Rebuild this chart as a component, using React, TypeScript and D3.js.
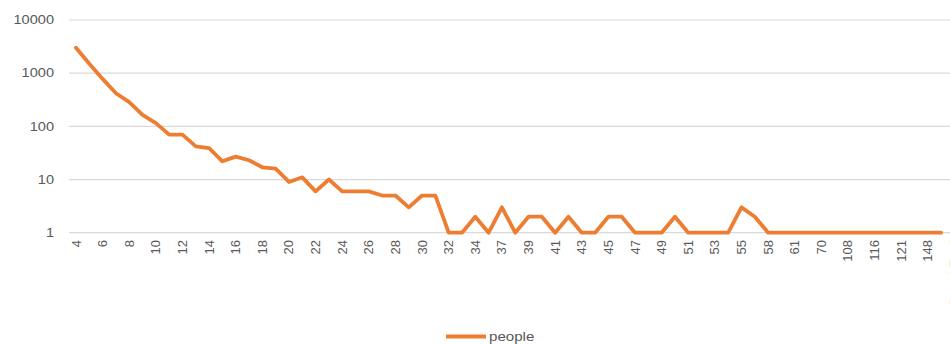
import React from "react";
import * as d3 from "d3";

// Group sizes (category axis) and the number of people in each group
const categories: string[] = [
  "4", "5", "6", "7", "8", "9", "10", "11", "12", "13", "14", "15", "16", "17", "18", "19",
  "20", "21", "22", "23", "24", "25", "26", "27", "28", "29", "30", "31", "32", "33", "34",
  "35", "37", "38", "39", "40", "41", "42", "43", "44", "45", "46", "47", "48", "49", "50",
  "51", "52", "53", "54", "55", "56", "58", "59", "61", "64", "70", "84", "108", "112", "116",
  "118", "121", "131", "148", "169", "Grand Total",
];

const people: (number | null)[] = [
  3000, 1500, 780, 420, 285, 165, 115, 70, 70, 42, 39, 22, 27, 23, 17, 16,
  9, 11, 6, 10, 6, 6, 6, 5, 5, 3, 5, 5, 1, 1, 2,
  1, 3, 1, 2, 2, 1, 2, 1, 1, 2, 2, 1, 1, 1, 2,
  1, 1, 1, 1, 3, 2, 1, 1, 1, 1, 1, 1, 1, 1, 1,
  1, 1, 1, 1, 1, null,
];

const yTicks: number[] = [1, 10, 100, 1000, 10000];
const seriesName = "people";

const W = 950;
const H = 344;
const LINE_COLOR = "#ED7D31";
const TEXT_COLOR = "#595959";
const GRID_COLOR = "#d9d9d9";
const FONT = "'Liberation Sans', Arial, sans-serif";

export default function App() {
  const step = 13.31;
  const x = d3
    .scalePoint<string>()
    .domain(categories)
    .range([76, 76 + step * (categories.length - 1)]);
  const y = d3.scaleLog().domain([1, 10000]).range([232.7, 20]);

  const points = categories.map((c, i) => ({ c, v: people[i] }));
  const line = d3
    .line<{ c: string; v: number | null }>()
    .defined((d) => d.v != null)
    .x((d) => x(d.c) as number)
    .y((d) => y(d.v as number));

  const gridLeft = 69;

  return (
    <svg
      width={W}
      height={H}
      style={{ position: "absolute", left: 0, top: 0, background: "#fff" }}
      fontFamily={FONT}
    >
      {/* horizontal gridlines and value labels */}
      {yTicks.map((t) => (
        <g key={t}>
          <line x1={gridLeft} x2={W} y1={y(t)} y2={y(t)} stroke={GRID_COLOR} strokeWidth={1.2} />
          <text
            transform={`translate(54,${y(t)}) scale(1.12,1)`}
            textAnchor="end"
            dominantBaseline="central"
            fontSize={13}
            fill={TEXT_COLOR}
          >
            {t}
          </text>
        </g>
      ))}

      {/* category labels, every second one */}
      {categories.map((c, i) =>
        i % 2 === 0 ? (
          <text
            key={c}
            transform={`translate(${x(c)},240) rotate(-90)`}
            textAnchor="end"
            dominantBaseline="central"
            fontSize={13}
            fill={TEXT_COLOR}
          >
            {c}
          </text>
        ) : null
      )}

      {/* series line */}
      <path
        d={line(points) || ""}
        fill="none"
        stroke={LINE_COLOR}
        strokeWidth={3.8}
        strokeLinejoin="round"
        strokeLinecap="round"
      />

      {/* legend */}
      <line x1={446} x2={486} y1={336.5} y2={336.5} stroke={LINE_COLOR} strokeWidth={3.8} />
      <text
        transform="translate(489,341) scale(1.12,1)"
        fontSize={13.5}
        fill={TEXT_COLOR}
      >
        {seriesName}
      </text>
    </svg>
  );
}
